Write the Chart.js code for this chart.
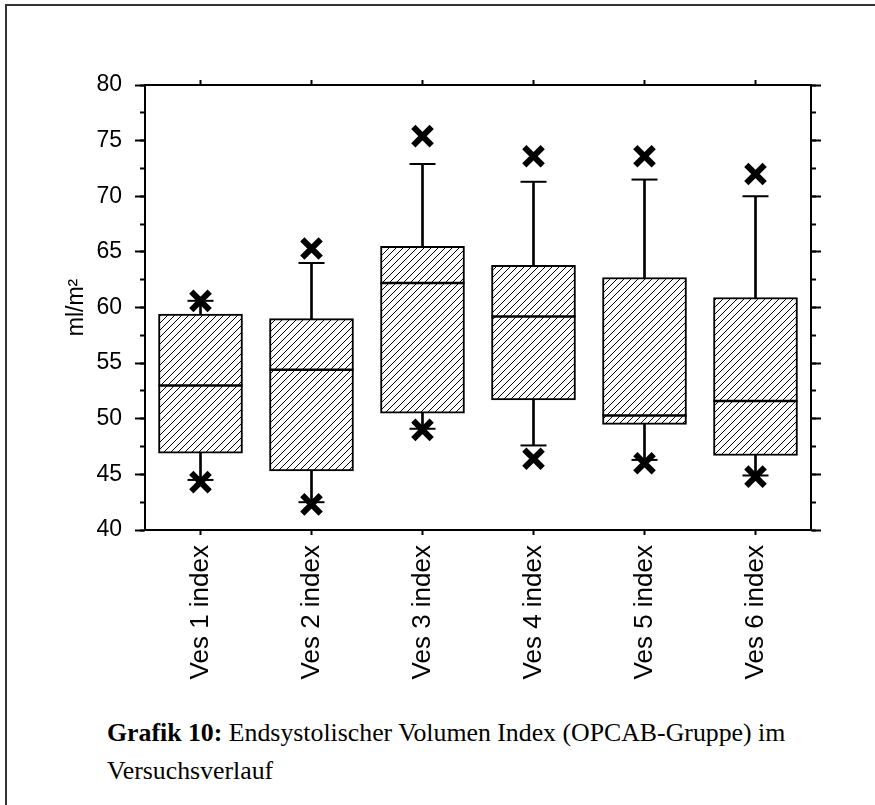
<!DOCTYPE html>
<html lang="de">
<head>
    <meta charset="UTF-8">
    <title>Grafik 10 - Endsystolischer Volumen Index</title>
    <script src="https://cdn.jsdelivr.net/npm/chart.js"></script>
    <style>
        html, body { margin: 0; padding: 0; background: #fff; overflow: hidden; }
        body { width: 875px; height: 805px; position: relative; }
        .frame {
            position: absolute; left: 5px; top: 4px; width: 1000px; height: 1000px;
            border-left: 2px solid #333; border-top: 2px solid #333;
        }
        .chart-box { position: absolute; left: 0; top: 0; width: 875px; height: 700px; }
        .caption {
            position: absolute; left: 107px; top: 714px;
            font-family: "Liberation Serif", "DejaVu Serif", serif;
            font-size: 25.8px; line-height: 38px; color: #000;
        }
    </style>
</head>
<body>
    <div class="frame"></div>
    <div class="chart-box"><canvas id="chart"></canvas></div>
    <div class="caption"><b>Grafik 10:</b> Endsystolischer Volumen Index (OPCAB-Gruppe) im<br>Versuchsverlauf</div>

    <script>
        // values (ml/m²)
        const categories = ['Ves 1 index', 'Ves 2 index', 'Ves 3 index', 'Ves 4 index', 'Ves 5 index', 'Ves 6 index'];
        const q1Values = [46.9, 45.3, 50.5, 51.7, 49.5, 46.7];
        const medianValues = [53.0, 54.4, 62.2, 59.2, 50.3, 51.6];
        const q3Values = [59.4, 59.0, 65.5, 63.8, 62.7, 60.9];
        const whiskerLow = [44.5, 42.5, 49.1, 47.6, 46.3, 44.9];
        const whiskerHigh = [60.6, 64.0, 72.9, 71.3, 71.5, 70.0];
        const minValues = [44.3, 42.3, 49.0, 46.4, 46.0, 44.8];
        const maxValues = [60.6, 65.3, 75.4, 73.6, 73.6, 72.0];
        const yTicks = { min: 40, max: 80, major: 5, minor: 2.5 };

        const canvas = document.getElementById('chart');
        const ctx = canvas.getContext('2d');

        // diagonal hatch used inside the boxes
        function makeHatch() {
            const c = document.createElement('canvas');
            c.width = 7; c.height = 7;
            const g = c.getContext('2d');
            g.fillStyle = '#fff';
            g.fillRect(0, 0, 7, 7);
            g.strokeStyle = '#000';
            g.lineWidth = 1;
            g.beginPath();
            g.moveTo(0, 7); g.lineTo(7, 0);
            g.moveTo(-1, 1); g.lineTo(1, -1);
            g.moveTo(6, 8); g.lineTo(8, 6);
            g.stroke();
            return ctx.createPattern(c, 'repeat');
        }

        const font = 'Liberation Sans, Arial, sans-serif';
        const tickGrid = (len) => ({
            drawOnChartArea: false, drawTicks: true, tickLength: len,
            tickWidth: 2, tickColor: '#000', offset: false
        });
        const axisBorder = { display: true, width: 2, color: '#000' };

        const markers = (data, style, radius, width, order) => ({
            type: 'line', data: data, showLine: false, order: order,
            pointStyle: style, pointRadius: radius, pointHoverRadius: radius,
            borderColor: '#000', backgroundColor: '#000', borderWidth: width, pointHoverBorderWidth: width
        });

        new Chart(canvas, {
            type: 'bar',
            data: {
                labels: categories,
                datasets: [
                    markers(maxValues, 'crossRot', 13, 6, 0),
                    markers(minValues, 'crossRot', 13, 6, 0),
                    markers(whiskerHigh, 'line', 13, 2, 1),
                    markers(whiskerLow, 'line', 13, 2, 1),
                    markers(medianValues, 'line', 42, 2.5, 2),
                    {
                        // boxes (interquartile range)
                        data: categories.map((c, i) => [q1Values[i], q3Values[i]]),
                        backgroundColor: makeHatch(),
                        borderColor: '#000', borderWidth: 2, borderSkipped: false,
                        barThickness: 84, grouped: false, order: 3
                    },
                    {
                        // whisker stems, drawn behind the boxes
                        data: categories.map((c, i) => [whiskerLow[i], whiskerHigh[i]]),
                        backgroundColor: '#000', borderWidth: 0,
                        barThickness: 2, grouped: false, order: 4
                    }
                ]
            },
            options: {
                responsive: true,
                maintainAspectRatio: false,
                animation: false,
                events: [],
                layout: { padding: { top: 80, right: 54, bottom: 0, left: 0 } },
                plugins: { legend: { display: false }, tooltip: { enabled: false } },
                scales: {
                    x: {
                        type: 'category', position: 'bottom', offset: true,
                        grid: tickGrid(5), border: axisBorder,
                        ticks: {
                            autoSkip: false, minRotation: 90, maxRotation: 90, padding: 10,
                            color: '#000', font: { family: font, size: 26 }
                        },
                        afterFit: (s) => { s.height = 170; }
                    },
                    xTop: {
                        type: 'category', position: 'top', offset: true,
                        grid: tickGrid(5), border: axisBorder,
                        ticks: { display: false }
                    },
                    y: {
                        type: 'linear', position: 'left', min: yTicks.min, max: yTicks.max, weight: 1,
                        grid: tickGrid(10), border: axisBorder,
                        ticks: { stepSize: yTicks.major, padding: 13, color: '#000', font: { family: font, size: 23 } },
                        title: {
                            display: true, text: 'ml/m²', color: '#000',
                            font: { family: font, size: 23 }, padding: { top: 63, bottom: 0 }
                        },
                        afterFit: (s) => { s.width = 145; }
                    },
                    yMinor: {
                        type: 'linear', position: 'left', min: yTicks.min, max: yTicks.max, weight: 0,
                        grid: tickGrid(5), border: { display: false },
                        ticks: { display: false, stepSize: yTicks.minor },
                        afterFit: (s) => { s.width = 0; }
                    },
                    yRight: {
                        type: 'linear', position: 'right', min: yTicks.min, max: yTicks.max, weight: 1,
                        grid: tickGrid(10), border: axisBorder,
                        ticks: { display: false, stepSize: yTicks.major },
                        afterFit: (s) => { s.width = 10; }
                    },
                    yRightMinor: {
                        type: 'linear', position: 'right', min: yTicks.min, max: yTicks.max, weight: 0,
                        grid: tickGrid(5), border: { display: false },
                        ticks: { display: false, stepSize: yTicks.minor },
                        afterFit: (s) => { s.width = 0; }
                    }
                }
            }
        });
    </script>
</body>
</html>
